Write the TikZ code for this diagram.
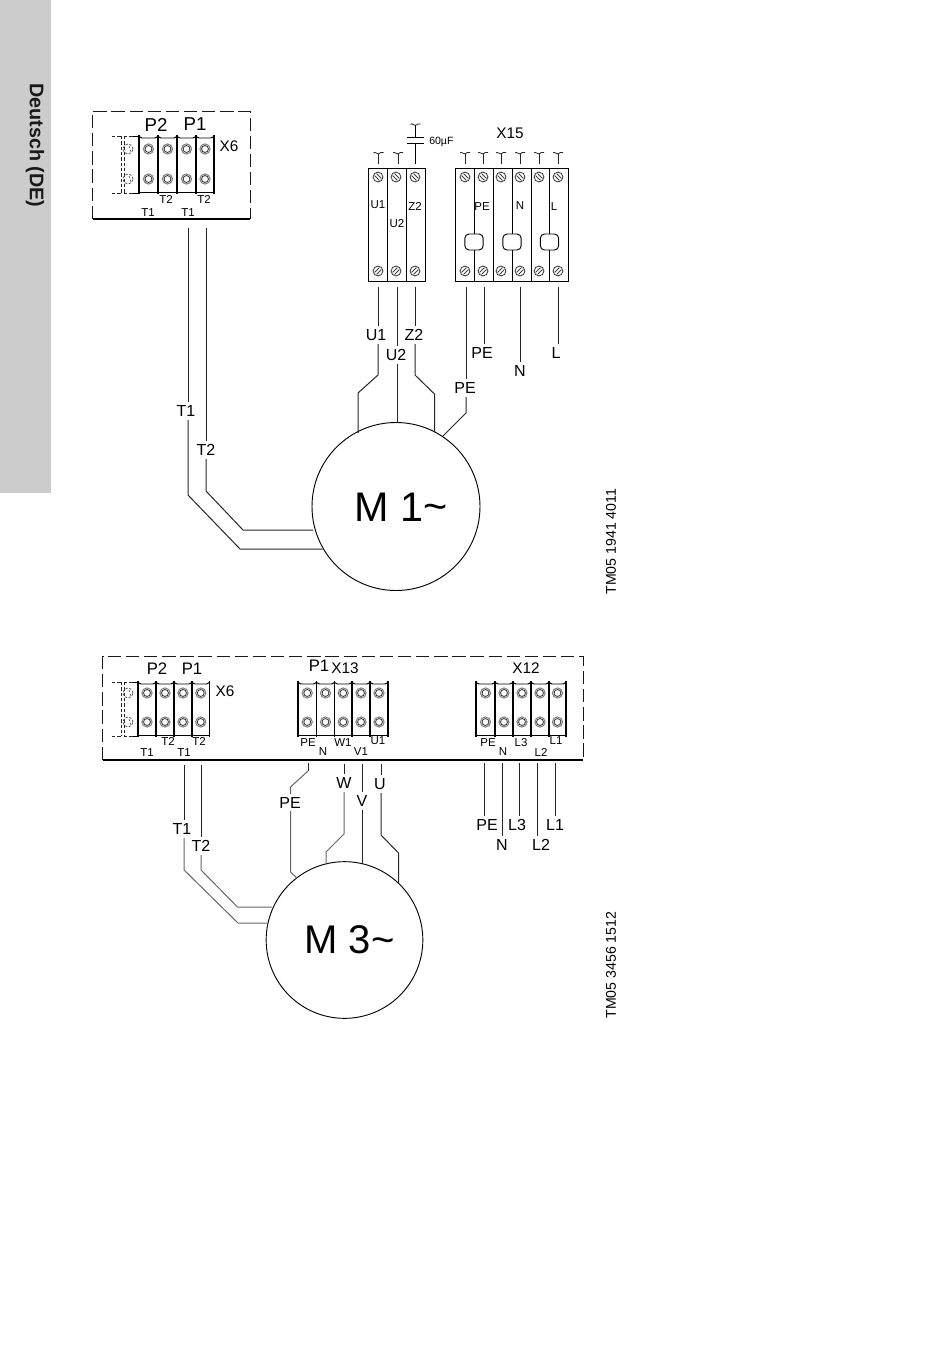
\documentclass[tikz,border=0pt]{standalone}
\usepackage{fontspec}
\setmainfont{Liberation Sans}
\newcommand{\fXI}{\fontsize{8.6pt}{10pt}\selectfont}
\newcommand{\fXV}{\fontsize{11.5pt}{13pt}\selectfont}
\newcommand{\fLab}{\fontsize{12pt}{14pt}\selectfont}
\newcommand{\fXVI}{\fontsize{12.5pt}{14pt}\selectfont}
\newcommand{\fP}{\fontsize{14pt}{16pt}\selectfont}
\tikzset{
  wire/.style={line width=0.75pt,black!85,line join=miter},
  gwire/.style={line width=0.75pt,black!60},
  frame/.style={line width=0.7pt,black!90,dash pattern=on 10pt off 3.6pt},
  solidedge/.style={line width=0.8pt,black},
  sep/.style={line width=0.95pt,black},
  thin box/.style={line width=0.7pt,black},
  lab/.style={inner sep=2.4pt,font=\fLab,text height=8.6pt,text depth=0pt},
  tiny/.style={inner sep=0pt,font=\fXI},
  ring/.style={line width=0.8pt,black!50},
  ringin/.style={line width=0.6pt,black!80},
  hatch/.style={line width=0.7pt,black!75},
}
\newcommand{\crenel}[4]{%
  \draw[sep] (#1,#3-1) -- (#1,#4+1);
  \draw[thin box] (#1,#3+0.5) -- (#1+3,#3+2) -- (#2-3,#3+2) -- (#2,#3+0.5);
  \draw[thin box] (#1,#4-1) -- (#2,#4-1);
}
\newcommand{\screw}[2]{%
  \draw[ring] (#1,#2) circle[radius=3.8pt];
  \draw[ringin] (#1,#2) circle[radius=2.6pt];
}
\newcommand{\dashscrew}[2]{%
  \draw[line width=0.6pt,black!65,dash pattern=on 1.8pt off 1.2pt] (#1,#2) circle[radius=3.8pt];
  \draw[line width=0.5pt,black!65,dash pattern=on 1.5pt off 1.5pt] (#1+1,#2-3) -- (#1+3,#2+3);
}
\newcommand{\hscrew}[3]{%
  \draw[ringin] (#1,#2) circle[radius=3.7pt];
  \draw[hatch] (#1-3.4,#2-1.4*#3) -- (#1+1.4,#2+3.4*#3);
  \draw[hatch] (#1-1.4,#2-3.4*#3) -- (#1+3.4,#2+1.4*#3);
}
\newcommand{\tildesym}[2]{%
  \draw[line width=0.6pt,black!85] (#1-5,#2) .. controls (#1-3.5,#2-2) and (#1-1.5,#2+1.5) .. (#1,#2+1) .. controls (#1+1.5,#2+0.5) and (#1+3,#2-2) .. (#1+5,#2-0.5);
}
\begin{document}
\begin{tikzpicture}[x=0.75pt,y=-0.75pt]
\useasboundingbox (0,0) rectangle (950,1346);
\fill[black!20] (0,0) rectangle (51,493);
\node[rotate=-90,inner sep=0pt,font=\fontsize{14.8pt}{16pt}\selectfont\bfseries,black!90] (tab) at (35,145.5) {Deutsch (DE)};
\node[rotate=90,inner sep=0pt,font=\fontsize{10.6pt}{12pt}\selectfont] (tm1) at (611,541.5) {TM05 1941 4011};
\node[rotate=90,inner sep=0pt,font=\fontsize{10.6pt}{12pt}\selectfont] (tm2) at (611,965) {TM05 3456 1512};

%%%%%%%%%%%%% upper frame
\draw[frame] (92.5,219) -- (92.5,111) -- (250,111) -- (250,219);
\draw[solidedge] (92.5,219) -- (250,219);
\node[inner sep=0pt,font=\fP] (p2a) at (156,125) {P2};
\node[inner sep=0pt,font=\fP] (p1a) at (195,124.5) {P1};
\node[inner sep=0pt,font=\fXV] (x6a) at (229,146) {X6};
\foreach \n/\x/\y/\t in {a/148/213/T1,b/188/213/T1,c/166/199/T2,d/204/199/T2}
  \node[tiny] (t6\n) at (\x,\y) {\t};
\draw[black!85,line width=0.65pt,dash pattern=on 2.5pt off 1.5pt] (112,136) -- (121,136) (112,193) -- (121,193) (121,136) -- (121,193) (124,136) -- (124,193) (124,136) -- (133,136) (124,193) -- (133,193);
\draw[thin box] (133,136) -- (139,136) (133,193)--(139,193);
\foreach \a/\b in {139/158,158/177,177/196,196/214}{
  \crenel{\a}{\b}{136}{193}
  \screw{\a/2+\b/2}{149}
  \screw{\a/2+\b/2}{179}
}
\draw[sep] (214,135) -- (214,194);
\dashscrew{128}{149}\dashscrew{128}{179}

% U1 U2 Z2 block
\draw[thin box] (368,168) rectangle (425,281);
\draw[thin box] (387,168) -- (387,281) (406,168) -- (406,281);
\foreach \x in {378,396,415}{\hscrew{\x}{177}{1}\hscrew{\x}{271}{-1}}
\node[tiny] (bu1) at (378,205) {U1};
\node[tiny] (bu2) at (397,224) {U2};
\node[tiny] (bz2) at (415,206) {Z2};
\foreach \x in {378.5,398}{\tildesym{\x}{153}\draw[line width=0.7pt,black!85] (\x,154) -- (\x,164);}
\tildesym{415.5}{124.5}
\coordinate (cpt) at (415.5,137.5);\coordinate (cpb) at (415.5,143.5);
\draw[line width=0.7pt] (415.5,125) -- (cpt) (cpb) -- (415.5,164);
\draw[line width=0.9pt] (407,137.5) -- (424,137.5) (407,143.5) -- (424,143.5);
\node[anchor=west,inner sep=0pt,font=\fontsize{7.9pt}{9pt}\selectfont] (c60) at (429,142) {60µF};
% X15 block
\node[inner sep=0pt,font=\fXV] (x15) at (510,133) {X15};
\foreach \x in {465,483,501,520,539,558}{\tildesym{\x}{153}\draw[line width=0.7pt,black!85] (\x,154) -- (\x,164);}
\draw[thin box] (455.5,168) rectangle (568,281);
\draw[thin box] (493,168) -- (493,281) (531,168) -- (531,281);
\foreach \x in {474,512,549.5}{
  \draw[thin box] (\x,168) -- (\x,234) (\x,250) -- (\x,281);
  \draw[thin box,rounded corners=3.2pt] (\x-9.2,234) rectangle (\x+9.2,250);
}
\foreach \x in {465,483,501,520,539,558}{\hscrew{\x}{177}{1}\hscrew{\x}{271}{-1}}
\node[tiny] (bpe) at (482,207) {PE};
\node[tiny] (bn) at (520,206) {N};
\node[tiny] (bl) at (554,207) {L};

%%%%%%%%%%%%% motor 1
\node[circle,draw,line width=0.7pt,minimum size=126pt,inner sep=0pt] (m1) at (396,506.5) {};
\node[inner sep=0pt,font=\fontsize{31pt}{34pt}\selectfont] (m1t) at (401.5,507) {M 1\raisebox{0.5pt}{\char"007E}};
\node[lab] (lT1) at (186,411) {T1};
\node[lab] (lT2) at (206,450) {T2};
\node[lab] (lU1) at (376,335) {U1};
\node[lab] (lU2) at (396,355) {U2};
\node[lab] (lZ2) at (414,335) {Z2};
\node[lab] (lPEa) at (465,388) {PE};
\node[lab] (lPEb) at (482,353) {PE};
\node[lab] (lN) at (520,371) {N};
\node[lab] (lL) at (556,353) {L};
\draw[wire] (188,228) -- (188,228 |- lT1.north);
\draw[wire] (188,228 |- lT1.south) -- (188,495) -- (240,549) -- (322.5,549);
\draw[wire] (206,228) -- (206,228 |- lT2.north);
\draw[wire] (206,228 |- lT2.south) -- (206,491) -- (243,530) -- (313,530);
\draw[wire] (378,287) -- (378,287 |- lU1.north);
\draw[wire] (378,287 |- lU1.south) -- (378,375) -- (358,393) -- (358,433);
\draw[wire] (397,287) -- (397,287 |- lU2.north);
\draw[wire] (397,287 |- lU2.south) -- (397,422.5);
\draw[wire] (415,287) -- (415,287 |- lZ2.north);
\draw[wire] (415,287 |- lZ2.south) -- (415,375) -- (434.5,394) -- (434.5,432);
\draw[wire] (466,287) -- (466,287 |- lPEa.north);
\draw[wire] (466,287 |- lPEa.south) -- (466,413) -- (443,436);
\draw[wire] (484,287) -- (484,287 |- lPEb.north);
\draw[wire] (520,287) -- (520,287 |- lN.north);
\draw[wire] (558,287) -- (558,287 |- lL.north);

%%%%%%%%%%%%% lower frame
\draw[frame] (102.5,760) -- (102.5,656.5) -- (583,656.5) -- (583,760);
\draw[solidedge] (102.5,760) -- (583,760);
\node[inner sep=0pt,font=\fXVI] (p2b) at (157,669) {P2};
\node[inner sep=0pt,font=\fXVI] (p1b) at (192,669) {P1};
\node[inner sep=0pt,font=\fXV] (x6b) at (225,691) {X6};
\node[inner sep=0pt,font=\fXVI] (p1c) at (319,666) {P1};
\node[inner sep=0pt,font=\fXV] (x13) at (345,668.5) {X13};
\node[inner sep=0pt,font=\fXV] (x12) at (526,668.5) {X12};
\foreach \n/\x/\y/\t in {a/147/753/T1,b/184/753/T1,c/168/741/T2,d/199/741/T2,
  e/308/743/PE,f/323/752/N,g/343/743/W1,h/361/752/V1,i/378/741/U1,
  j/488/743/PE,k/503/752/N,l/521/743/L3,m/541/752/L2,n/556/741/L1}
  \node[tiny] (s\n) at (\x,\y) {\t};
\draw[black!85,line width=0.65pt,dash pattern=on 2.5pt off 1.5pt] (112,682) -- (121,682) (112,736) -- (121,736) (121,682) -- (121,736) (124,682) -- (124,736) (124,682) -- (133,682) (124,736) -- (133,736);
\draw[thin box] (133,682) -- (138,682) (133,736)--(138,736);
\foreach \a/\b in {138/156,156/174,174/192,192/209.5}{
  \crenel{\a}{\b}{682}{736}
  \screw{\a/2+\b/2}{693}
  \screw{\a/2+\b/2}{722}
}
\draw[sep] (209.5,681) -- (209.5,737);
\dashscrew{128}{693}\dashscrew{128}{722}
\foreach \a/\b in {298/316.5,316.5/334.5,334.5/352,352/370,370/388}{
  \crenel{\a}{\b}{682}{736}
  \screw{\a/2+\b/2}{693}
  \screw{\a/2+\b/2}{722}
}
\draw[sep] (388,681) -- (388,737);
\foreach \a/\b in {476/495,495/513,513/531,531/549,549/566}{
  \crenel{\a}{\b}{682}{736}
  \screw{\a/2+\b/2}{693}
  \screw{\a/2+\b/2}{722}
}
\draw[sep] (566,681) -- (566,737);

%%%%%%%%%%%%% motor 2
\node[circle,draw,line width=0.7pt,minimum size=117.5pt,inner sep=0pt] (m2) at (344.5,940) {};
\node[inner sep=0pt,font=\fontsize{30pt}{34pt}\selectfont] (m2t) at (349.5,940) {M 3\raisebox{0.5pt}{\char"007E}};
\node[lab] (mT1) at (182,829) {T1};
\node[lab] (mT2) at (201,846) {T2};
\node[lab] (mPE) at (290,803) {PE};
\node[lab] (mW) at (344,783) {W};
\node[lab] (mV) at (362,801) {V};
\node[lab] (mU) at (380,784) {U};
\node[lab] (nPE) at (487,825) {PE};
\node[lab] (nN) at (502,845) {N};
\node[lab] (nL3) at (517,825) {L3};
\node[lab] (nL2) at (541,845) {L2};
\node[lab] (nL1) at (555,825) {L1};
\draw[wire] (184,765) -- (184,765 |- mT1.north);
\draw[gwire] (184,765 |- mT1.south) -- (184,870) -- (238,923) -- (267,923);
\draw[wire] (201,765) -- (201,765 |- mT2.north);
\draw[gwire] (201,765 |- mT2.south) -- (201,870) -- (237.5,907) -- (272,907);
\draw[wire] (308,763) -- (308,771);
\draw[gwire] (308,771) -- (290.5,787) -- (290.5,794);
\draw[gwire] (290.5,811) -- (290.5,872) -- (297,878);
\draw[wire] (344,764) -- (344,764 |- mW.north);
\draw[gwire] (344,764 |- mW.south) -- (344,834) -- (326,852) -- (326,864);
\draw[wire] (362,764) -- (362,764 |- mV.north);
\draw[wire] (362,764 |- mV.south) -- (362,864);
\draw[wire] (381,764) -- (381,764 |- mU.north);
\draw[wire] (381,764 |- mU.south) -- (381,835) -- (398.5,853) -- (398.5,883);
\draw[wire] (484,763) -- (484,763 |- nPE.north);
\draw[wire] (502,763) -- (502,763 |- nN.north);
\draw[wire] (519,763) -- (519,763 |- nL3.north);
\draw[wire] (537,763) -- (537,763 |- nL2.north);
\draw[wire] (555,763) -- (555,763 |- nL1.north);
\end{tikzpicture}
\end{document}
